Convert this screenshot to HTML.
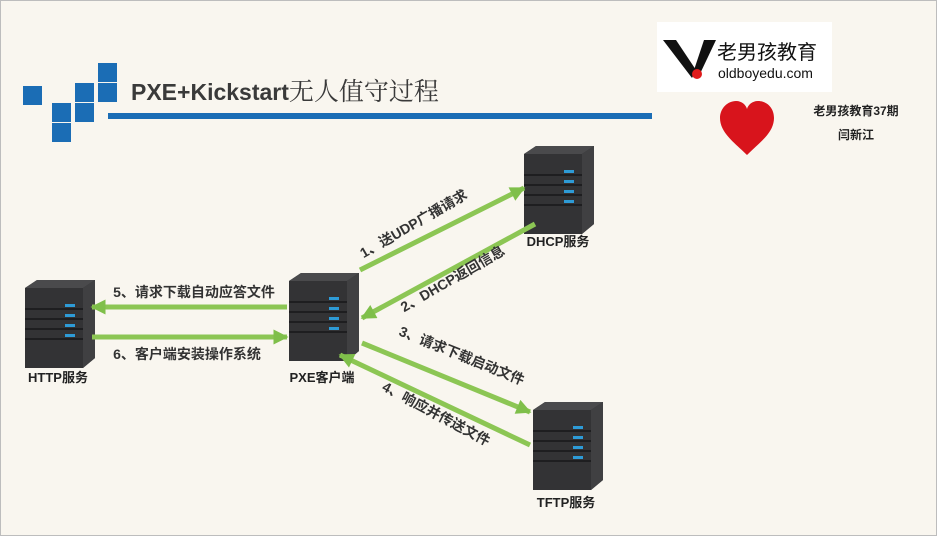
<!DOCTYPE html>
<html><head><meta charset="utf-8"><style>
html,body{margin:0;padding:0}
body{width:937px;height:536px;overflow:hidden;background:#f9f6ef;font-family:"Liberation Sans","Noto Sans CJK SC",sans-serif}
svg{display:block}
</style></head><body>
<svg width="937" height="536" viewBox="0 0 937 536" xmlns="http://www.w3.org/2000/svg" font-family="Liberation Sans, Noto Sans CJK SC, sans-serif">
<defs>
<g id="srv">
  <polygon points="0,8 12,0 70,0 70,78 58,88 0,88" fill="#2b2b2d"/>
  <polygon points="0,8 12,0 70,0 58,8" fill="#4a4a4c"/>
  <polygon points="58,8 70,0 70,78 58,88" fill="#404042"/>
  <rect x="0" y="8" width="58" height="80" fill="#333335"/>
  <g fill="#1e1e20"><rect x="0" y="28" width="58" height="2"/><rect x="0" y="38" width="58" height="2"/><rect x="0" y="48" width="58" height="2"/><rect x="0" y="58" width="58" height="2"/></g>
  <g fill="#2e9bd6"><rect x="40" y="24" width="10" height="3"/><rect x="40" y="34" width="10" height="3"/><rect x="40" y="44" width="10" height="3"/><rect x="40" y="54" width="10" height="3"/></g>
</g>
<marker id="ah" viewBox="0 0 10 10" refX="9" refY="5" markerWidth="5" markerHeight="3" orient="auto" markerUnits="strokeWidth"><polygon points="0,0 10,5 0,10" fill="#7fbf4a"/></marker>
</defs>
<rect x="0.5" y="0.5" width="936" height="535" fill="none" stroke="#bdbdbd"/>
<g fill="#1b6db5">
<rect x="23" y="86" width="19" height="19"/>
<rect x="52" y="103" width="19" height="19"/><rect x="52" y="123" width="19" height="19"/>
<rect x="75" y="83" width="19" height="19"/><rect x="75" y="103" width="19" height="19"/>
<rect x="98" y="63" width="19" height="19"/><rect x="98" y="83" width="19" height="19"/>
<rect x="108" y="113" width="544" height="6"/>
</g>
<text x="131" y="100" font-size="23" font-weight="bold" fill="#3a3a3a">PXE+Kickstart<tspan font-weight="normal" font-size="25" font-family="Noto Serif CJK SC, serif">无人值守过程</tspan></text>
<rect x="657" y="22" width="175" height="70" fill="#ffffff"/>
<polygon points="663,40 676,40 696,70 692,78" fill="#111"/>
<polygon points="704,40 716,40 698,78 694,70" fill="#111"/>
<circle cx="697" cy="74" r="5" fill="#e01b1b"/>
<text x="717" y="59" font-size="20" fill="#111">老男孩教育</text>
<text x="718" y="78" font-size="14" fill="#111">oldboyedu.com</text>
<path d="M747,155 C735,143 720,133 720,118 C720,108 728,101 736,101 C742,101 746,105 747,109 C748,105 752,101 758,101 C767,101 774,108 774,118 C774,133 759,143 747,155 Z" fill="#d8141c"/>
<text x="856" y="115" font-size="12" font-weight="bold" fill="#222" text-anchor="middle">老男孩教育37期</text>
<text x="856" y="139" font-size="12" font-weight="bold" fill="#222" text-anchor="middle">闫新江</text>
<use href="#srv" x="25" y="280"/>
<use href="#srv" x="289" y="273"/>
<use href="#srv" x="524" y="146"/>
<use href="#srv" x="533" y="402"/>
<g font-size="13" font-weight="bold" fill="#222" text-anchor="middle">
<text x="58" y="382">HTTP服务</text>
<text x="322" y="382">PXE客户端</text>
<text x="558" y="246">DHCP服务</text>
<text x="566" y="507">TFTP服务</text>
</g>
<g stroke="#8cc654" stroke-width="5" fill="none" marker-end="url(#ah)">
<line x1="360" y1="270" x2="524" y2="188"/>
<line x1="535" y1="224" x2="362" y2="318"/>
<line x1="362" y1="343" x2="530" y2="412"/>
<line x1="530" y1="445" x2="340" y2="355"/>
<line x1="287" y1="307" x2="92" y2="307"/>
<line x1="92" y1="337" x2="287" y2="337"/>
</g>
<g font-size="14" font-weight="bold" fill="#333" text-anchor="middle">
<text transform="translate(416,228) rotate(-30)">1、送UDP广播请求</text>
<text transform="translate(455,283) rotate(-30)">2、DHCP返回信息</text>
<text transform="translate(460,360) rotate(22)">3、请求下载启动文件</text>
<text transform="translate(434,418) rotate(28)">4、响应并传送文件</text>
<text x="194" y="297">5、请求下载自动应答文件</text>
<text x="187" y="359">6、客户端安装操作系统</text>
</g>
</svg>
</body></html>
